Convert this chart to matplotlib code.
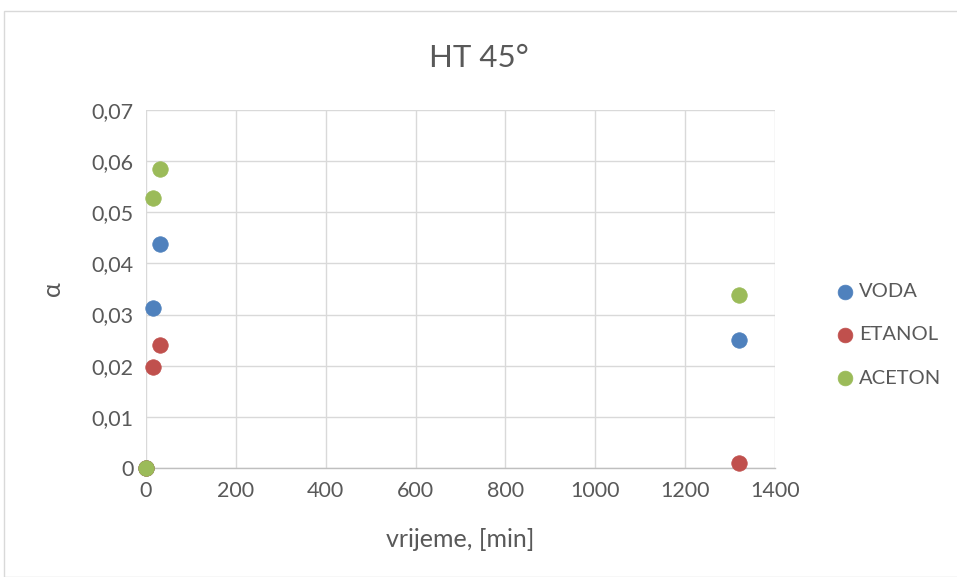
import matplotlib
matplotlib.use("Agg")
import matplotlib.pyplot as plt
from matplotlib.patches import Rectangle
from matplotlib.ticker import FuncFormatter

plt.rcParams["font.family"] = ["Lato", "DejaVu Sans"]

# data
vrijeme = [0, 15, 30, 1320]
voda = [0, 0.0313, 0.0438, 0.0251]
etanol = [0, 0.0198, 0.0240, 0.0010]
aceton = [0, 0.0527, 0.0584, 0.0339]

series = [
    ("VODA", voda, "#4F81BD"),
    ("ETANOL", etanol, "#C0504D"),
    ("ACETON", aceton, "#9BBB59"),
]

txt = "#595959"
grid = "#D9D9D9"

fig = plt.figure(figsize=(9.57, 5.77), dpi=100)
ax = fig.add_axes([0.1526, 0.1889, 0.6572, 0.6205])

for name, vals, col in series:
    ax.scatter(vrijeme, vals, s=125, color=col, label=name, zorder=3,
               edgecolors=col, linewidths=0.5, clip_on=False)

ax.set_xlim(0, 1400)
ax.set_ylim(0, 0.07)
ax.set_xticks(range(0, 1401, 200))
ax.set_yticks([i / 100 for i in range(0, 8)])
ax.yaxis.set_major_formatter(FuncFormatter(
    lambda v, p: "0" if v == 0 else f"{v:.2f}".replace(".", ",")))

ax.grid(True, color=grid, linewidth=1)
ax.set_axisbelow(True)
for s in ["top", "right", "left"]:
    ax.spines[s].set_visible(False)
ax.spines["bottom"].set_color("#BFBFBF")
ax.spines["bottom"].set_linewidth(1)
ax.tick_params(length=0, labelsize=15.5, colors=txt, pad=9)

ax.set_xlabel("vrijeme, [min]", fontsize=18, color=txt, labelpad=20)
ax.set_ylabel("α", fontsize=18, color=txt, labelpad=20)
fig.text(0.5, 0.9, "HT 45°", ha="center", va="center", fontsize=22.5,
         color=txt)

leg = ax.legend(loc="center left", bbox_to_anchor=(1.097, 0.372),
                frameon=False, borderpad=0, borderaxespad=0, fontsize=14.5,
                labelspacing=1.3, handlelength=0.9, handletextpad=0.25,
                markerscale=0.95)
for t in leg.get_texts():
    t.set_color(txt)

# chart frame
fig.patches.append(Rectangle((4 / 957, 0), 1, 1 - 11 / 577,
                             transform=fig.transFigure, fill=False,
                             edgecolor="#D9D9D9", linewidth=1))

fig.savefig("out.png", dpi=100)
